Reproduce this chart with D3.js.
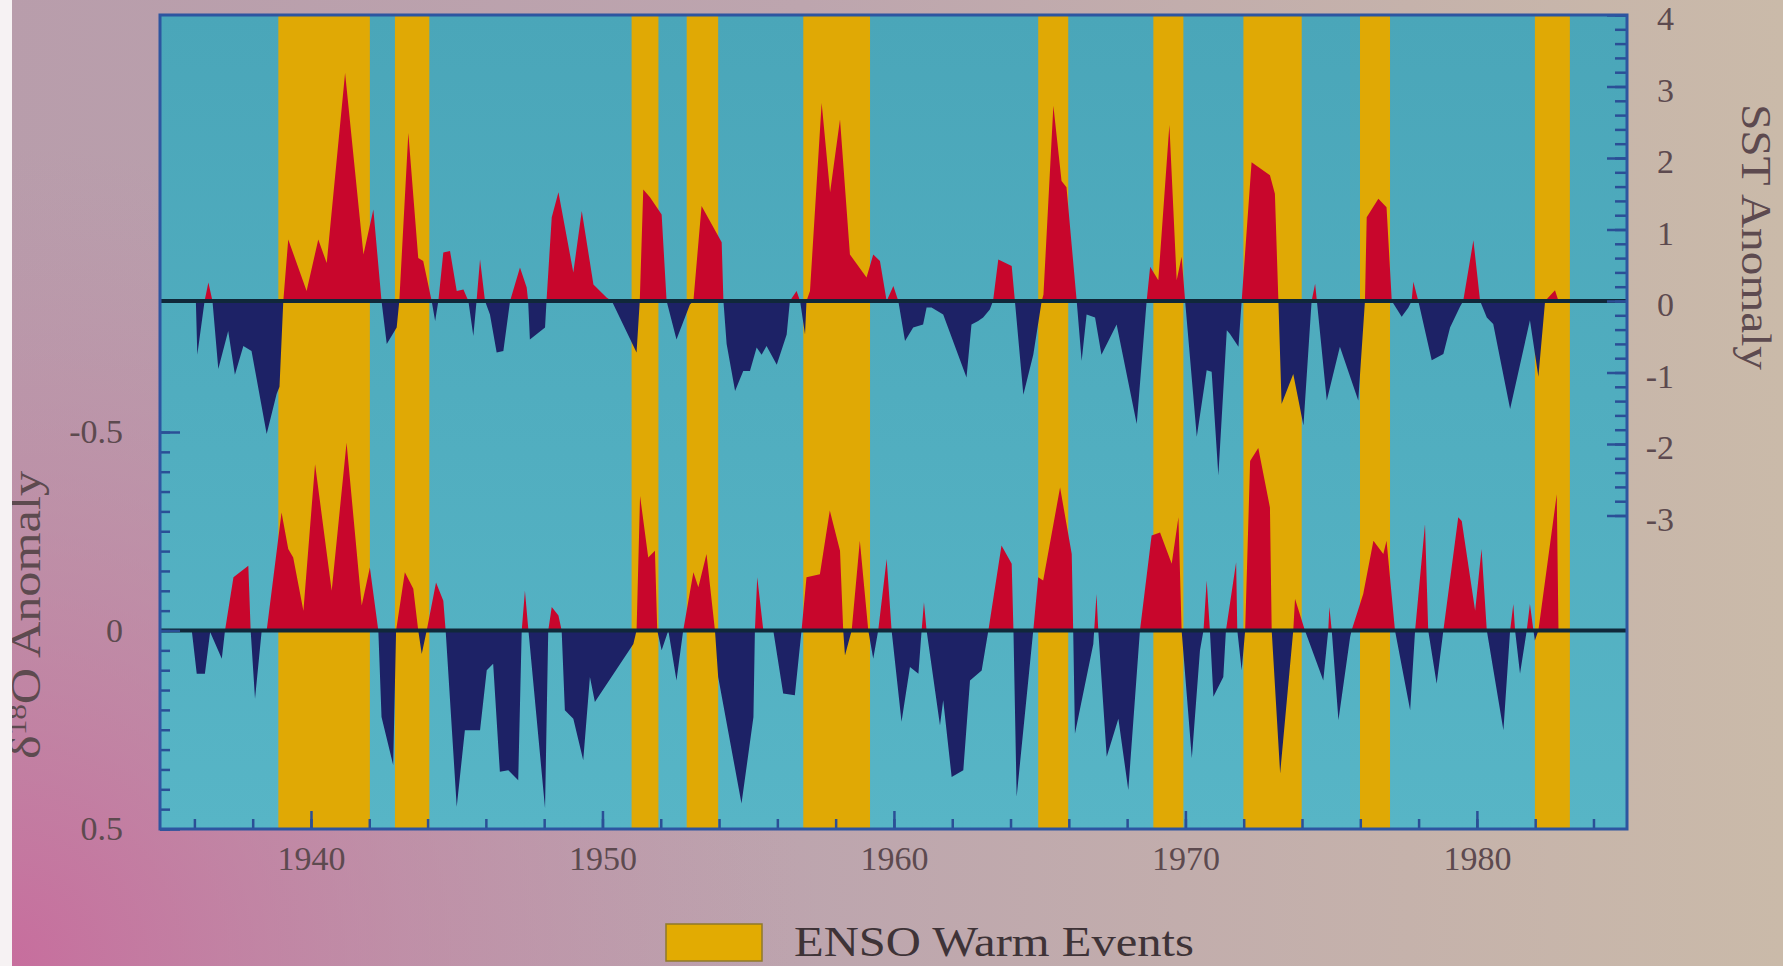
<!DOCTYPE html>
<html>
<head>
<meta charset="utf-8">
<script src="https://cdn.jsdelivr.net/npm/d3@7/dist/d3.min.js"></script>
<style>
  html, body { margin: 0; padding: 0; background: #c0a8b0; }
  svg { display: block; }
  text { font-family: "Liberation Serif", "DejaVu Serif", serif; }
</style>
</head>
<body>
<svg id="chart" width="1783" height="966"></svg>
<script>
// ---------------- DATA ----------------
const sstYears = [1936.05,1936.10,1936.35,1936.48,1936.62,1936.82,1937.16,1937.39,1937.68,1937.96,1938.48,1938.82,1938.92,1939.05,1939.22,1939.85,1940.25,1940.54,1941.17,1941.80,1942.14,1942.42,1942.60,1942.94,1943.03,1943.34,1943.68,1943.85,1944.14,1944.26,1944.37,1944.54,1944.77,1945.00,1945.23,1945.40,1945.57,1945.68,1945.80,1945.97,1946.14,1946.37,1946.60,1946.83,1947.17,1947.40,1947.45,1947.51,1948.03,1948.08,1948.26,1948.49,1949.00,1949.29,1949.69,1950.14,1950.32,1951.17,1951.28,1951.40,1951.63,1952.03,1952.20,1952.54,1953.00,1953.12,1953.40,1954.09,1954.15,1954.26,1954.55,1954.83,1955.06,1955.29,1955.46,1955.63,1955.98,1956.32,1956.43,1956.66,1956.78,1956.95,1957.00,1957.12,1957.52,1957.81,1958.15,1958.49,1959.06,1959.29,1959.52,1959.75,1959.98,1960.15,1960.38,1960.66,1961.00,1961.12,1961.29,1961.69,1962.49,1962.66,1962.89,1963.06,1963.29,1963.40,1963.58,1964.04,1964.15,1964.44,1964.78,1965.07,1965.13,1965.47,1965.75,1965.92,1966.27,1966.44,1966.61,1966.90,1967.12,1967.64,1968.33,1968.67,1968.79,1969.07,1969.45,1969.70,1969.87,1969.99,1970.39,1970.73,1970.90,1971.13,1971.42,1971.53,1971.82,1971.93,1972.27,1972.90,1973.07,1973.19,1973.30,1973.70,1974.05,1974.33,1974.45,1974.51,1974.85,1975.30,1975.93,1976.16,1976.22,1976.62,1976.90,1977.08,1977.42,1977.65,1977.76,1977.82,1977.99,1978.45,1978.85,1979.08,1979.42,1979.53,1979.88,1980.11,1980.34,1980.56,1981.14,1981.82,1982.11,1982.34,1982.68,1982.80];
const sstValues = [0,-0.75,0,0.26,0,-0.95,-0.42,-1.03,-0.63,-0.70,-1.86,-1.30,-1.20,0,0.86,0.14,0.86,0.53,3.19,0.65,1.28,0,-0.60,-0.37,0,2.35,0.60,0.56,0,-0.28,0,0.68,0.70,0.14,0.16,0,-0.49,0,0.58,0,-0.19,-0.72,-0.70,0,0.47,0.19,0,-0.54,-0.37,0,1.17,1.52,0.40,1.26,0.23,0.05,0,-0.72,0,1.56,1.45,1.21,0,-0.54,-0.05,0,1.33,0.82,0,-0.60,-1.26,-0.98,-0.98,-0.65,-0.75,-0.63,-0.89,-0.47,0,0.14,0,-0.47,0,0.14,2.77,1.52,2.54,0.65,0.33,0.65,0.56,0,0.21,0,-0.56,-0.37,-0.33,-0.09,-0.09,-0.19,-1.07,-0.33,-0.28,-0.23,-0.12,0,0.58,0.49,0,-1.31,-0.75,0,0.09,2.73,1.68,1.59,0,-0.84,-0.19,-0.23,-0.75,-0.33,-1.72,0,0.48,0.29,2.46,0.29,0.62,0,-1.90,-0.97,-0.99,-2.44,-0.41,-0.46,-0.64,0,1.94,1.76,1.50,0,-1.44,-1.02,-1.74,0,0.24,0,-1.39,-0.64,-1.39,0,1.17,1.43,1.31,0,-0.22,-0.09,0,0.27,0,-0.83,-0.74,-0.37,-0.08,0,0.85,0,-0.23,-0.32,-1.51,-0.27,-1.06,0,0.15,0];

const d18oYears = [1935.91,1936.08,1936.36,1936.54,1936.94,1937.05,1937.34,1937.85,1937.93,1938.08,1938.31,1938.48,1938.99,1939.22,1939.39,1939.74,1940.14,1940.71,1941.22,1941.74,1942.02,1942.31,1942.42,1942.82,1942.92,1943.22,1943.51,1943.68,1943.80,1943.97,1944.29,1944.54,1944.62,1945.00,1945.28,1945.80,1946.03,1946.25,1946.48,1946.77,1947.11,1947.23,1947.34,1947.46,1948.03,1948.14,1948.26,1948.49,1948.60,1948.71,1949.00,1949.34,1949.57,1949.74,1951.06,1951.17,1951.29,1951.57,1951.80,1951.88,1952.03,1952.26,1952.54,1952.77,1953.12,1953.29,1953.57,1953.86,1953.97,1954.77,1955.18,1955.23,1955.31,1955.52,1955.86,1956.20,1956.60,1956.83,1957.00,1957.46,1957.80,1958.15,1958.26,1958.32,1958.55,1958.83,1959.12,1959.29,1959.46,1959.75,1959.92,1960.26,1960.55,1960.84,1960.95,1961.03,1961.12,1961.58,1961.69,1961.98,1962.38,1962.61,1963.01,1963.24,1963.69,1964.04,1964.10,1964.21,1964.78,1964.95,1965.12,1965.70,1966.10,1966.15,1966.21,1966.84,1966.95,1967.01,1967.30,1967.70,1968.04,1968.44,1968.84,1969.13,1969.53,1969.76,1969.87,1970.22,1970.50,1970.62,1970.73,1970.84,1970.96,1971.30,1971.39,1971.74,1971.78,1971.93,1972.05,1972.22,1972.50,1972.90,1972.96,1973.25,1973.70,1973.76,1974.10,1974.73,1974.90,1974.94,1975.02,1975.25,1975.65,1975.70,1976.10,1976.45,1976.79,1976.90,1977.19,1977.71,1977.88,1978.22,1978.33,1978.62,1978.85,1979.36,1979.48,1979.94,1980.16,1980.34,1980.91,1981.14,1981.25,1981.31,1981.48,1981.71,1981.82,1981.94,1981.99,1982.11,1982.74,1982.80];
const d18oValues = [0,0.109,0.109,0.004,0.071,0,-0.134,-0.163,0,0.172,0,0,-0.297,-0.205,-0.184,-0.05,-0.419,-0.10,-0.473,-0.063,-0.159,0,0.218,0.339,0,-0.147,-0.105,0,0.059,0,-0.121,-0.075,0,0.444,0.251,0.251,0.10,0.084,0.356,0.352,0.377,0,-0.10,0,0.448,0,-0.059,-0.038,0,0.201,0.222,0.327,0.117,0.18,0.034,0,-0.339,-0.184,-0.201,0,0.05,0,0.126,0,-0.147,-0.109,-0.193,0,0.117,0.436,0.218,0,-0.134,0,0,0.159,0.163,0,-0.134,-0.142,-0.302,-0.201,0,0.063,0,-0.226,0,0.071,0,-0.18,0,0.23,0.092,0.109,0,-0.071,0,0.239,0.176,0.369,0.352,0.126,0.101,0,-0.214,-0.168,0,0.419,0,-0.134,-0.126,-0.36,-0.193,0,0.26,0.034,-0.092,0,0.318,0.222,0.402,0,-0.239,-0.247,-0.168,-0.285,0,0.322,0.05,0,-0.126,0,0.167,0.117,0,-0.172,0,0.10,0,-0.427,-0.46,-0.31,0,0.36,0,-0.08,0,0.126,0,-0.059,0,0.226,0.017,0,-0.092,-0.226,-0.193,-0.226,0,0.201,0,-0.268,0,0.134,0,-0.285,-0.276,-0.05,-0.205,0,0.251,0,-0.067,0,0.109,0,-0.067,0,0.025,0,-0.343,0];

const ensoStart = [1938.88, 1942.88, 1951.00, 1952.89, 1956.89, 1964.95, 1968.90, 1971.99, 1975.99, 1981.99];
const ensoEnd   = [1942.02, 1944.06, 1951.92, 1953.97, 1959.18, 1965.98, 1969.93, 1973.99, 1977.02, 1983.19];

const xMinorTicks = d3.range(1936, 1986, 2);
const xMajorTicks = [1940, 1950, 1960, 1970, 1980];
const sstMajorTicks = [-3, -2, -1, 0, 1, 2, 3, 4];
const sstMinorTicks = d3.range(-15, 21).map(i => i / 5);
const d18oMajorTicks = [-0.5, 0, 0.5];
const d18oMinorTicks = d3.range(-10, 11).map(i => i / 20);

const sstTitle = "SST Anomaly";
const legendLabel = "ENSO Warm Events";

// ---------------- LAYOUT ----------------
const W = 1783, H = 966;
const L = 160, R = 1627, T = 15, B = 829;

const svg = d3.select("#chart");
const defs = svg.append("defs");

const lg = defs.append("linearGradient").attr("id", "bgL")
  .attr("x1", "0").attr("y1", "0").attr("x2", "1").attr("y2", "0");
lg.append("stop").attr("offset", "0").attr("stop-color", "#b89dab");
lg.append("stop").attr("offset", "0.45").attr("stop-color", "#bda5ae");
lg.append("stop").attr("offset", "1").attr("stop-color", "#cabaa9");

const rg = defs.append("radialGradient").attr("id", "bgR")
  .attr("gradientUnits", "userSpaceOnUse")
  .attr("cx", 0).attr("cy", H).attr("r", 820);
rg.append("stop").attr("offset", "0").attr("stop-color", "#c86a9c").attr("stop-opacity", 0.95);
rg.append("stop").attr("offset", "0.5").attr("stop-color", "#c47ea2").attr("stop-opacity", 0.5);
rg.append("stop").attr("offset", "1").attr("stop-color", "#c08aa8").attr("stop-opacity", 0);

const pg = defs.append("linearGradient").attr("id", "plotBg")
  .attr("x1", "0").attr("y1", "0").attr("x2", "0").attr("y2", "1");
pg.append("stop").attr("offset", "0").attr("stop-color", "#4aa6b9");
pg.append("stop").attr("offset", "1").attr("stop-color", "#57b5c6");

svg.append("rect").attr("width", W).attr("height", H).attr("fill", "url(#bgL)");
svg.append("rect").attr("width", W).attr("height", H).attr("fill", "url(#bgR)");

// scales
const x = d3.scaleLinear().domain([1934.82, 1985.15]).range([L, R]);
const ySST = d3.scaleLinear().domain([0, 4]).range([301, T]);
const yD = d3.scaleLinear().domain([-0.5, 0.5]).range([432, 829]);

// clip paths
defs.append("clipPath").attr("id", "plotClip")
  .append("rect").attr("x", L).attr("y", T).attr("width", R - L).attr("height", B - T);
defs.append("clipPath").attr("id", "sstAbove")
  .append("rect").attr("x", L).attr("y", T).attr("width", R - L).attr("height", ySST(0) - T);
defs.append("clipPath").attr("id", "sstBelow")
  .append("rect").attr("x", L).attr("y", ySST(0)).attr("width", R - L).attr("height", B - ySST(0));
defs.append("clipPath").attr("id", "dAbove")
  .append("rect").attr("x", L).attr("y", T).attr("width", R - L).attr("height", yD(0) - T);
defs.append("clipPath").attr("id", "dBelow")
  .append("rect").attr("x", L).attr("y", yD(0)).attr("width", R - L).attr("height", B - yD(0));

// plot background
svg.append("rect").attr("x", L).attr("y", T).attr("width", R - L).attr("height", B - T)
  .attr("fill", "url(#plotBg)");

// ENSO bands
const bands = ensoStart.map((s, i) => ({ s, e: ensoEnd[i] }));
svg.append("g").attr("clip-path", "url(#plotClip)")
  .selectAll("rect").data(bands).join("rect")
  .attr("x", d => x(d.s)).attr("width", d => x(d.e) - x(d.s))
  .attr("y", T).attr("height", B - T)
  .attr("fill", "#e0a905");

// series areas
const sstData = sstYears.map((yr, i) => ({ yr, v: sstValues[i] }));
const dData = d18oYears.map((yr, i) => ({ yr, v: d18oValues[i] }));

const sstArea = d3.area().x(d => x(d.yr)).y0(ySST(0)).y1(d => ySST(d.v));
const dArea = d3.area().x(d => x(d.yr)).y0(yD(0)).y1(d => yD(d.v));

const RED = "#c8062c", NAVY = "#1d2266";
svg.append("path").datum(sstData).attr("d", sstArea).attr("fill", RED).attr("clip-path", "url(#sstAbove)");
svg.append("path").datum(sstData).attr("d", sstArea).attr("fill", NAVY).attr("clip-path", "url(#sstBelow)");
svg.append("path").datum(dData).attr("d", dArea).attr("fill", RED).attr("clip-path", "url(#dAbove)");
svg.append("path").datum(dData).attr("d", dArea).attr("fill", NAVY).attr("clip-path", "url(#dBelow)");

// zero lines
[ySST(0), yD(0)].forEach(yy => {
  svg.append("line").attr("x1", L).attr("x2", R).attr("y1", yy).attr("y2", yy)
    .attr("stroke", "#10283a").attr("stroke-width", 4);
});

// axes
const TICK = "#2b4f96";
const LABEL = "#5d4a4f";
function styleAxis(g, showLabels) {
  g.select(".domain").remove();
  g.selectAll(".tick line").attr("stroke", TICK).attr("stroke-width", 2.5);
  if (!showLabels) g.selectAll(".tick text").remove();
  else g.selectAll(".tick text").attr("fill", LABEL)
        .style("font-family", '"Liberation Serif", serif').style("font-size", "34px");
}

// x axis
svg.append("g").attr("transform", `translate(0,${B})`)
  .call(d3.axisBottom(x).tickValues(xMinorTicks).tickSize(-10).tickFormat(""))
  .call(g => styleAxis(g, false));
svg.append("g").attr("transform", `translate(0,${B})`)
  .call(d3.axisBottom(x).tickValues(xMajorTicks).tickSize(-18).tickPadding(17).tickFormat(d => String(d)))
  .call(g => styleAxis(g, true));

// left axis (d18O)
svg.append("g").attr("transform", `translate(${L},0)`)
  .call(d3.axisLeft(yD).tickValues(d18oMinorTicks).tickSize(-10).tickFormat(""))
  .call(g => styleAxis(g, false));
svg.append("g").attr("transform", `translate(${L},0)`)
  .call(d3.axisLeft(yD).tickValues(d18oMajorTicks).tickSize(-20).tickPadding(37)
        .tickFormat(d => d === 0 ? "0" : d.toFixed(1)))
  .call(g => styleAxis(g, true));

// right axis (SST)
svg.append("g").attr("transform", `translate(${R},0)`)
  .call(d3.axisRight(ySST).tickValues(sstMinorTicks).tickSize(-12).tickFormat(""))
  .call(g => styleAxis(g, false));
svg.append("g").attr("transform", `translate(${R},0)`)
  .call(d3.axisRight(ySST).tickValues(sstMajorTicks).tickSize(-20).tickFormat(d => String(d)))
  .call(g => styleAxis(g, true))
  .call(g => g.selectAll(".tick text").attr("text-anchor", "end").attr("x", 47).attr("y", 4));

// frame
svg.append("rect").attr("x", L).attr("y", T).attr("width", R - L).attr("height", B - T)
  .attr("fill", "none").attr("stroke", "#2d55a0").attr("stroke-width", 3);

// titles
svg.append("text")
  .attr("transform", "translate(1742,237) rotate(90)")
  .attr("text-anchor", "middle").attr("fill", LABEL)
  .attr("textLength", 266).attr("lengthAdjust", "spacingAndGlyphs")
  .style("font-size", "42px").text(sstTitle);

const lt = svg.append("text")
  .attr("transform", "translate(40,615) rotate(-90)")
  .attr("text-anchor", "middle").attr("fill", LABEL)
  .attr("textLength", 288).attr("lengthAdjust", "spacingAndGlyphs")
  .style("font-size", "42px");
lt.append("tspan").text("δ");
lt.append("tspan").attr("baseline-shift", "super").style("font-size", "26px").text("18");
lt.append("tspan").text("O Anomaly");

// left white photo edge
svg.append("rect").attr("x", 0).attr("y", 0).attr("width", 12).attr("height", H).attr("fill", "#f6f2f3");

// legend
svg.append("rect").attr("x", 666).attr("y", 924).attr("width", 96).attr("height", 37)
  .attr("fill", "#e2ab02").attr("stroke", "#8f7a2a").attr("stroke-width", 1.5);
svg.append("text").attr("x", 794).attr("y", 956).attr("fill", "#3e3337")
  .attr("textLength", 400).attr("lengthAdjust", "spacingAndGlyphs")
  .style("font-size", "43px").text(legendLabel);
</script>
</body>
</html>
